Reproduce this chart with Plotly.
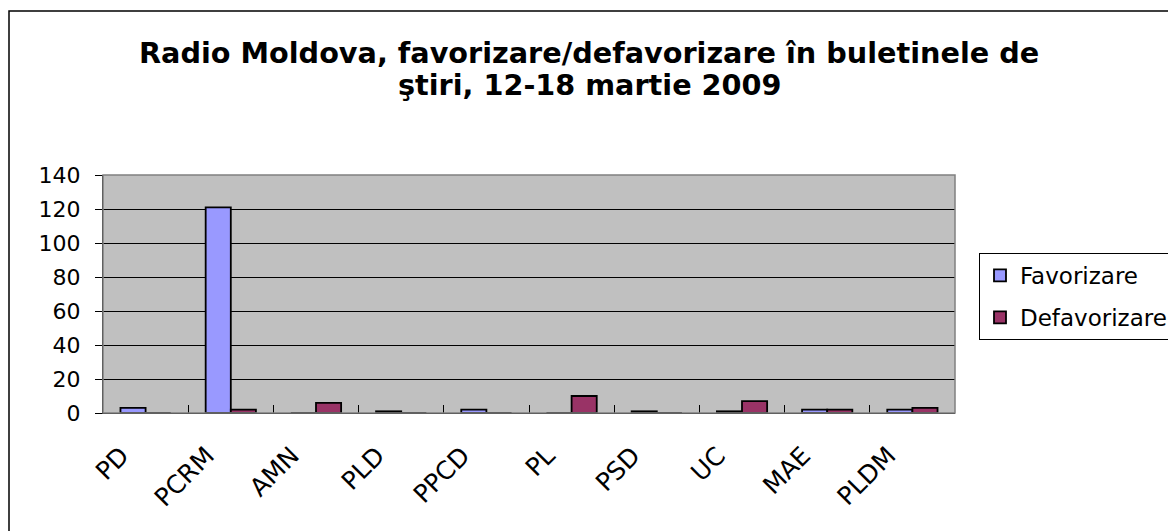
import plotly.graph_objects as go

# party categories and counts
parties = ['PD', 'PCRM', 'AMN', 'PLD', 'PPCD', 'PL', 'PSD', 'UC', 'MAE', 'PLDM']
favorizare = [3, 121, 0, 1, 2, 0, 1, 1, 2, 2]
defavorizare = [0, 2, 6, 0, 0, 10, 0, 7, 2, 3]
y_ticks = [0, 20, 40, 60, 80, 100, 120, 140]

title_1 = 'Radio Moldova, favorizare/defavorizare în buletinele de'
title_2 = 'ştiri, 12-18 martie 2009'

# the page body has an 8px margin, so the figure is a bit smaller than the window
W, H = 1168, 523
L, R, T, B = 95, 221, 167, 118
pw, ph = W - L - R, H - T - B

font_family = 'DejaVu Sans, Arial, sans-serif'


def px(x):
    # figure pixel -> paper x
    return (x - L) / float(pw)


def py(y):
    # figure pixel -> paper y
    return (H - B - y) / float(ph)


fig = go.Figure()
fig.add_trace(go.Bar(x=parties, y=favorizare, name='Favorizare', legendgroup='fav',
                     marker=dict(color='#9999FF', line=dict(color='black', width=1.8))))
fig.add_trace(go.Bar(x=parties, y=defavorizare, name='Defavorizare', legendgroup='def',
                     marker=dict(color='#993366', line=dict(color='black', width=1.8))))

fig.update_layout(
    width=W, height=H,
    margin=dict(l=L, r=R, t=T, b=B, autoexpand=False),
    paper_bgcolor='white',
    plot_bgcolor='#C0C0C0',
    font=dict(family=font_family, size=21, color='black'),
    barmode='group',
    bargap=0.41,
    bargroupgap=0,
    showlegend=True,
    legend=dict(x=px(971), y=py(245), xanchor='left', yanchor='top',
                bgcolor='white', bordercolor='black', borderwidth=1,
                font=dict(size=23), tracegroupgap=9),
    annotations=[
        dict(text='<b>' + title_1 + '</b>', xref='paper', yref='paper', x=px(581), y=py(45),
             showarrow=False, font=dict(size=28.7), xanchor='center', yanchor='middle'),
        dict(text='<b>' + title_2 + '</b>', xref='paper', yref='paper', x=px(581), y=py(77),
             showarrow=False, font=dict(size=28.7), xanchor='center', yanchor='middle'),
    ],
    shapes=[
        dict(type='rect', xref='paper', yref='paper',
             x0=px(1), x1=px(1250), y0=py(620), y1=py(3),
             line=dict(color='black', width=1.5), fillcolor='rgba(0,0,0,0)', layer='below'),
    ],
)

fig.update_xaxes(
    type='category',
    tickangle=-45,
    tickson='boundaries',
    ticks='inside', ticklen=8, tickcolor='black',
    showline=True, linecolor='black', linewidth=1,
    showgrid=False,
    ticklabelstandoff=17,
    ticklabelshift=-24,
    tickfont=dict(size=25),
)
fig.update_yaxes(
    range=[0, 140],
    tickvals=y_ticks,
    ticks='outside', ticklen=7, tickcolor='black',
    showline=True, linecolor='black', linewidth=1,
    showgrid=True, gridcolor='black', gridwidth=1,
    zeroline=False,
    ticklabelstandoff=10,
    tickfont=dict(size=22),
)

# grey border around the plot area
fig.add_shape(type='rect', xref='paper', yref='paper', x0=0, x1=1, y0=0, y1=1,
              line=dict(color='#808080', width=1.5), fillcolor='rgba(0,0,0,0)')

fig.write_html("out.html")
